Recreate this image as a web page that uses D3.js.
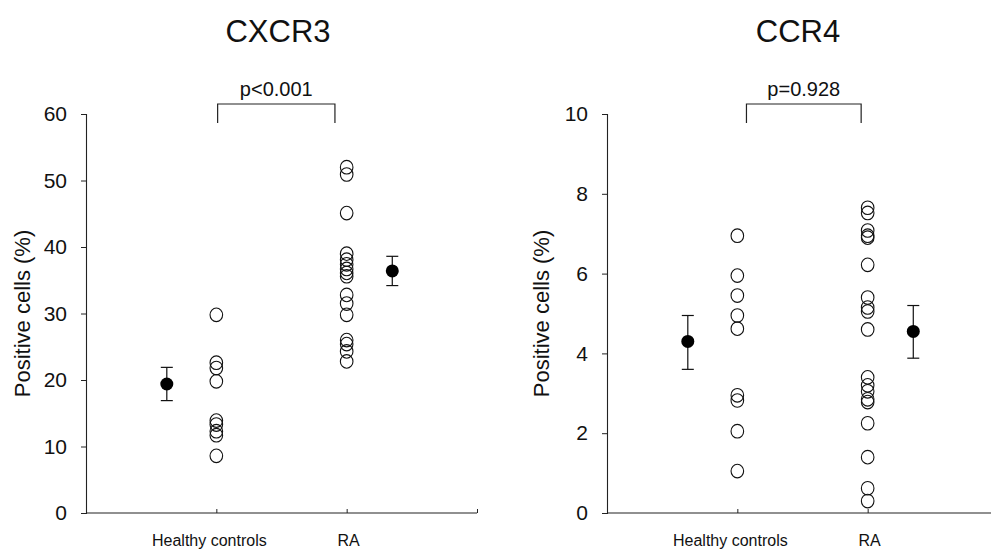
<!DOCTYPE html>
<html>
<head>
<meta charset="utf-8">
<script src="https://cdn.jsdelivr.net/npm/d3@7/dist/d3.min.js"></script>
<style>
  html, body { margin: 0; padding: 0; background: #fff; }
  svg { display: block; font-family: "Liberation Sans", Arial, Helvetica, sans-serif; }
</style>
</head>
<body>
<svg id="chart" width="991" height="549"></svg>
<script>
// ---- data ----
const categories = ["Healthy controls", "RA"];
const panelTitles = ["CXCR3", "CCR4"];
const pValues = ["p<0.001", "p=0.928"];

const cxcr3Healthy = [29.8, 22.6, 21.8, 19.8, 13.9, 13.3, 12.3, 11.7, 8.6];
const cxcr3RA = [52.0, 50.9, 45.1, 39.0, 38.1, 37.4, 36.7, 36.1, 35.6, 32.8, 31.5, 29.8, 26.0, 25.4, 24.3, 22.8];
const cxcr3Mean = [19.4, 36.4];
const cxcr3Upper = [21.9, 38.6];
const cxcr3Lower = [16.9, 34.2];

const ccr4Healthy = [6.95, 5.95, 5.45, 4.95, 4.62, 2.95, 2.82, 2.05, 1.05];
const ccr4RA = [7.65, 7.52, 7.08, 6.95, 6.9, 6.22, 5.4, 5.15, 5.05, 4.6, 3.4, 3.2, 3.05, 2.85, 2.78, 2.25, 1.4, 0.62, 0.3];
const ccr4Mean = [4.3, 4.55];
const ccr4Upper = [4.95, 5.2];
const ccr4Lower = [3.6, 3.88];

const cxcr3Ticks = [0, 10, 20, 30, 40, 50, 60];
const ccr4Ticks = [0, 2, 4, 6, 8, 10];
const yTitle = "Positive cells (%)";

// ---- layout ----
const svg = d3.select("#chart");
const panels = [
  { title: panelTitles[0], p: pValues[0], healthy: cxcr3Healthy, ra: cxcr3RA,
    mean: cxcr3Mean, upper: cxcr3Upper, lower: cxcr3Lower, ticks: cxcr3Ticks, ymax: 60,
    x0: 86, titleX: 278, labelX: 22, bracket: [1.01, 1.91] },
  { title: panelTitles[1], p: pValues[1], healthy: ccr4Healthy, ra: ccr4RA,
    mean: ccr4Mean, upper: ccr4Upper, lower: ccr4Lower, ticks: ccr4Ticks, ymax: 10,
    x0: 607, titleX: 798, labelX: 541, bracket: [1.07, 1.95] }
];

const axisColor = "#222";

panels.forEach(pn => {
  const g = svg.append("g");
  const x = d3.scaleLinear().domain([0, 3]).range([pn.x0, pn.x0 + 391]);
  const y = d3.scaleLinear().domain([0, pn.ymax]).range([513, 114]);

  // title
  g.append("text").attr("x", pn.titleX).attr("y", 42)
    .attr("text-anchor", "middle").attr("font-size", 31).attr("fill", "#111")
    .text(pn.title);

  // y axis
  const ya = g.append("g").attr("transform", `translate(${pn.x0},0)`)
    .call(d3.axisLeft(y).tickValues(pn.ticks).tickSize(5).tickPadding(14).tickFormat(d3.format("d")));
  ya.select(".domain").attr("stroke", axisColor).attr("stroke-width", 1.1);
  ya.selectAll(".tick line").attr("stroke", axisColor);
  ya.selectAll("text").attr("font-size", 21).attr("fill", "#111").attr("font-family", "Liberation Sans, Arial, sans-serif");

  // x axis
  const xa = g.append("g").attr("transform", "translate(0,513)")
    .call(d3.axisTop(x).tickValues([1, 2, 3]).tickSize(4).tickFormat(""));
  xa.select(".domain").attr("d", `M${x(0)},0H${x(3)}`).attr("stroke", axisColor).attr("stroke-width", 1.1);
  xa.selectAll(".tick line").attr("stroke", axisColor);

  // category labels
  g.selectAll(".cat").data(categories).join("text")
    .attr("class", "cat")
    .attr("x", (d, i) => x(i + 1) + (i === 0 ? -7 : 2))
    .attr("y", 546)
    .attr("text-anchor", "middle").attr("font-size", 16).attr("fill", "#111")
    .text(d => d);

  // y title
  g.append("text")
    .attr("transform", `translate(${pn.labelX},${y(pn.ymax / 2) + 0}) rotate(-90)`)
    .attr("text-anchor", "middle").attr("dominant-baseline", "central")
    .attr("font-size", 22).attr("fill", "#111")
    .text(yTitle);

  // p-value bracket
  const bx1 = x(pn.bracket[0]), bx2 = x(pn.bracket[1]);
  g.append("path")
    .attr("d", `M${bx1},123V104H${bx2}V123`)
    .attr("fill", "none").attr("stroke", axisColor).attr("stroke-width", 1.2);
  g.append("text").attr("x", (bx1 + bx2) / 2).attr("y", 96)
    .attr("text-anchor", "middle").attr("font-size", 20).attr("fill", "#111")
    .text(pn.p);

  // individual points
  const groups = [pn.healthy, pn.ra];
  groups.forEach((vals, gi) => {
    g.selectAll(".pt" + gi).data(vals).join("ellipse")
      .attr("class", "pt" + gi)
      .attr("cx", x(gi + 1))
      .attr("cy", d => y(d))
      .attr("rx", 6.3).attr("ry", 6.8)
      .attr("fill", "none").attr("stroke", "#111").attr("stroke-width", 1.1);
  });

  // mean +/- error bars
  const meanX = [0.62, 2.35];
  pn.mean.forEach((m, i) => {
    const cx = x(meanX[i]);
    g.append("line").attr("x1", cx).attr("x2", cx)
      .attr("y1", y(pn.upper[i])).attr("y2", y(pn.lower[i]))
      .attr("stroke", "#111").attr("stroke-width", 1.2);
    [pn.upper[i], pn.lower[i]].forEach(v => {
      g.append("line").attr("x1", cx - 6).attr("x2", cx + 6)
        .attr("y1", y(v)).attr("y2", y(v))
        .attr("stroke", "#111").attr("stroke-width", 1.2);
    });
    g.append("circle").attr("cx", cx).attr("cy", y(m)).attr("r", 6.5).attr("fill", "#000");
  });
});
</script>
</body>
</html>
